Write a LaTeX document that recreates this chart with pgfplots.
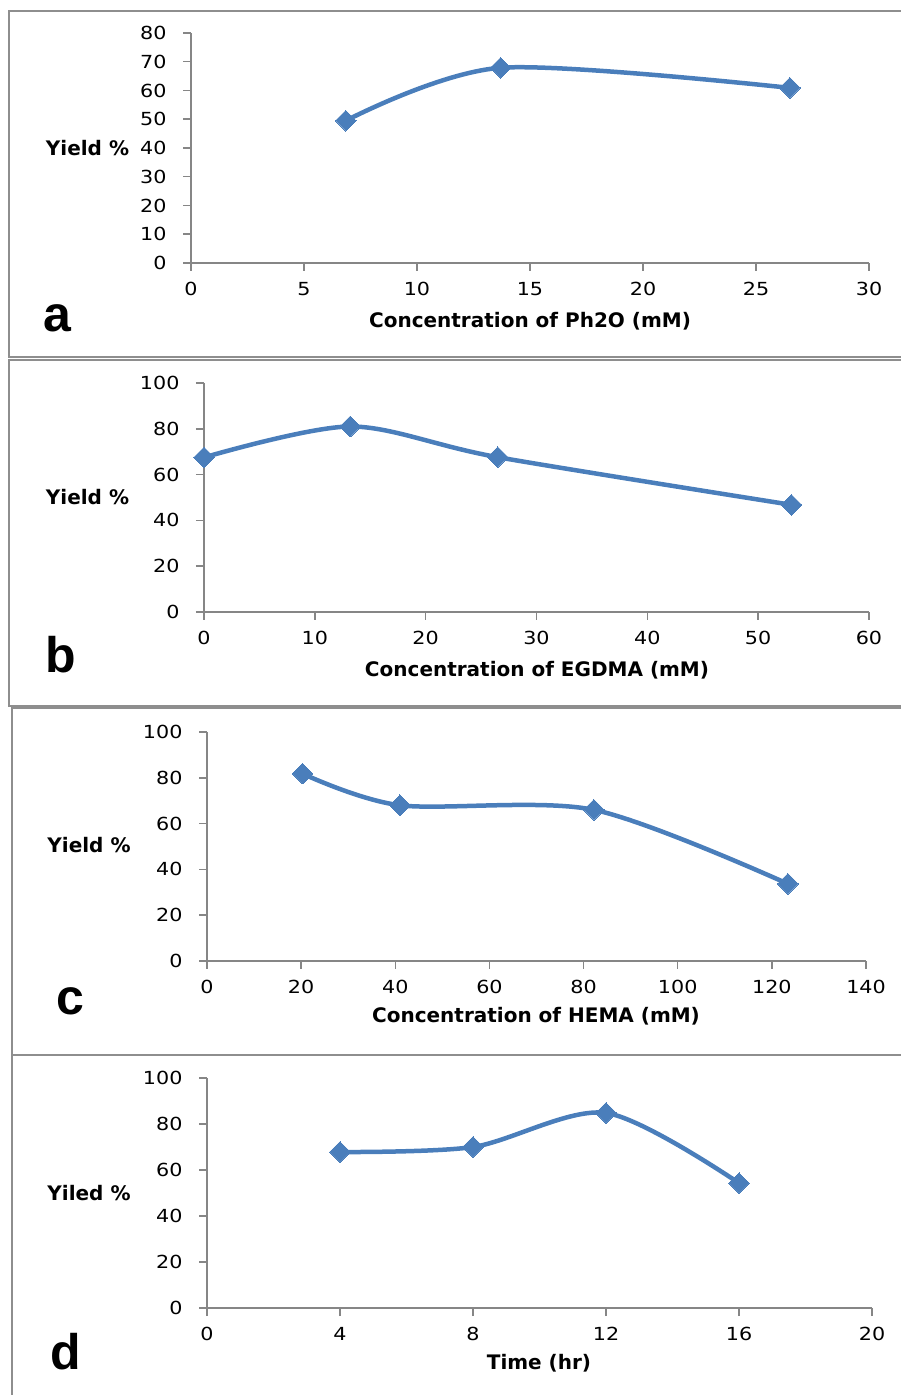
\documentclass[border=0pt]{standalone}
\usepackage{fontspec}
\setmainfont{DejaVu Sans}
\newfontfamily\tickfont{DejaVu Sans}[FakeStretch=1.15]
\newfontfamily\letterfont{Liberation Sans}
\usepackage{pgfplots}
\pgfplotsset{compat=1.18}
\definecolor{lineblue}{HTML}{4A7EBB}
\definecolor{axgray}{HTML}{868686}
\definecolor{boxgray}{HTML}{8E8E8E}
\pgfplotsset{
  panel/.style={
    scale only axis, axis lines*=left,
    axis line style={draw=axgray, line width=2pt},
    tick style={draw=axgray, line width=1.5pt},
    major tick length=8pt, tick align=outside,
    ticklabel style={font=\tickfont\fontsize{18}{21}\selectfont},
    xticklabel style={yshift=-8pt},
    yticklabel style={xshift=-13pt},
    /pgf/number format/assume math mode=true,
    xmin=0, ymin=0, clip=false, anchor=south west,
  },
  curve/.style={color=lineblue, line width=4.5pt, smooth, tension=0.5,
    mark=square*, mark size=7.3pt, mark options={rotate=45, solid, line width=0pt, fill=lineblue}},
}
\newcommand{\lab}{\bfseries\fontsize{20}{23}\selectfont}
\newcommand{\letf}{\letterfont\bfseries\fontsize{50}{54}\selectfont}
\begin{document}
\begin{tikzpicture}
\path[use as bounding box] (0pt,0pt) rectangle (901pt,1395pt);
\clip (0pt,0pt) rectangle (901pt,1395pt);
% panel boxes
\draw[boxgray, line width=2pt] (9pt,1038pt) rectangle (910pt,1384pt);
\draw[boxgray, line width=2pt] (9pt,689pt) rectangle (910pt,1035pt);
\draw[boxgray, line width=2pt] (12pt,340pt) rectangle (910pt,687pt);
\draw[boxgray, line width=2pt] (12pt,-10pt) rectangle (910pt,340pt);

% panel a
\begin{axis}[panel, at={(191pt,1132pt)}, width=678pt, height=230pt,
  xmax=30, ymax=80, xtick={0,5,...,30}, ytick={0,10,...,80}]
\addplot[curve] coordinates {(6.85,49.5) (13.7,67.9) (26.5,60.9)};
\end{axis}
\node[font=\lab, anchor=base] at (87.5pt,1239pt) {Yield \%};
\node[font=\lab, anchor=base] at (530pt,1067pt) {Concentration of Ph2O (mM)};
\node[font=\letf, anchor=base] at (57pt,1063pt) {a};

% panel b
\begin{axis}[panel, at={(204pt,783pt)}, width=665pt, height=229pt,
  xmax=60, ymax=100, xtick={0,10,...,60}, ytick={0,20,...,100}]
\addplot[curve] coordinates {(0,67.5) (13.2,81) (26.5,67.6) (53,46.8)};
\end{axis}
\node[font=\lab, anchor=base] at (87.5pt,890pt) {Yield \%};
\node[font=\lab, anchor=base] at (537pt,718pt) {Concentration of EGDMA (mM)};
\node[font=\letf, anchor=base] at (61pt,722pt) {b};

% panel c
\begin{axis}[panel, at={(207pt,434pt)}, width=659pt, height=229pt,
  xmax=140, ymax=100, xtick={0,20,...,140}, ytick={0,20,...,100}]
\addplot[curve] coordinates {(20.3,81.8) (41,68) (82.2,66) (123.4,33.7)};
\end{axis}
\node[font=\lab, anchor=base] at (89pt,542pt) {Yield \%};
\node[font=\lab, anchor=base] at (536pt,372pt) {Concentration of HEMA (mM)};
\node[font=\letf, anchor=base] at (70pt,380pt) {c};

% panel d
\begin{axis}[panel, at={(207pt,87pt)}, width=665pt, height=230pt,
  xmax=20, ymax=100, xtick={0,4,...,20}, ytick={0,20,...,100}]
\addplot[curve] coordinates {(4,67.8) (8,70) (12,84.8) (16,54.3)};
\end{axis}
\node[font=\lab, anchor=base] at (89pt,194pt) {Yiled \%};
\node[font=\lab, anchor=base] at (539pt,25pt) {Time (hr)};
\node[font=\letf, anchor=base] at (66pt,25pt) {d};
\end{tikzpicture}
\end{document}
